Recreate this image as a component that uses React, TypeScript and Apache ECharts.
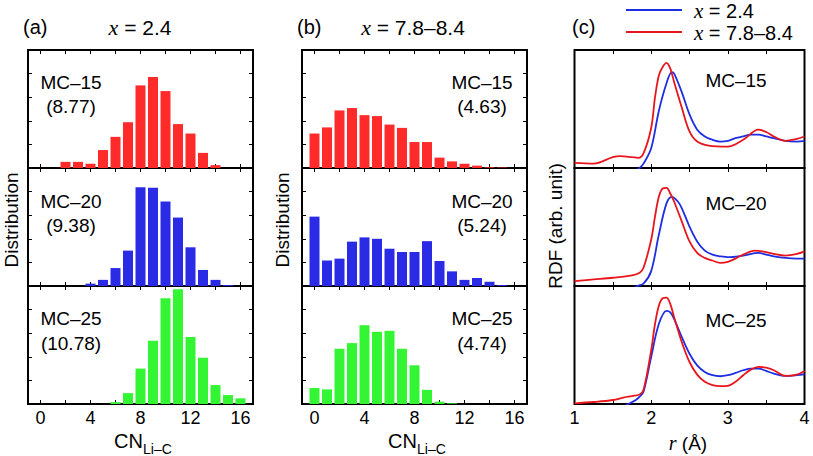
import React, { useEffect, useRef } from "react";
import * as echarts from "echarts";

const W = 813;
const H = 456;
const SANS = '"Liberation Sans", Arial, Helvetica, sans-serif';
const SERIF = '"Liberation Serif", "Times New Roman", serif';

// Coordination number bins
const cn = [0, 1, 2, 3, 4, 5, 6, 7, 8, 9, 10, 11, 12, 13, 14, 15, 16];
const cnTicks = [0, 2, 4, 6, 8, 10, 12, 14, 16];
const cnLabels = [0, 4, 8, 12, 16];

// (a) x = 2.4
const a15 = [0, 0, 0.013, 0.013, 0.009, 0.038, 0.066, 0.097, 0.175, 0.193, 0.163, 0.093, 0.073, 0.032, 0.006, 0, 0];
const a20 = [0, 0, 0, 0, 0.005, 0.013, 0.038, 0.075, 0.209, 0.208, 0.179, 0.145, 0.082, 0.034, 0.013, 0.002, 0];
const a25 = [0, 0, 0, 0, 0, 0, 0.004, 0.023, 0.075, 0.134, 0.224, 0.243, 0.142, 0.098, 0.04, 0.019, 0.012];
// (b) x = 7.8-8.4
const b15 = [0.073, 0.086, 0.122, 0.127, 0.112, 0.11, 0.092, 0.085, 0.055, 0.055, 0.022, 0.014, 0.009, 0.005, 0.0015, 0.001, 0];
const b20 = [0.147, 0.054, 0.058, 0.094, 0.103, 0.1, 0.079, 0.072, 0.072, 0.095, 0.053, 0.031, 0.013, 0.017, 0.009, 0.002, 0];
const b25 = [0.034, 0.031, 0.117, 0.129, 0.167, 0.153, 0.155, 0.117, 0.082, 0.03, 0.005, 0.0015, 0, 0, 0, 0, 0];

const histLabels = [
  ["MC\u201315", "(8.77)", "MC\u201320", "(9.38)", "MC\u201325", "(10.78)"],
  ["MC\u201315", "(4.63)", "MC\u201320", "(5.24)", "MC\u201325", "(4.74)"],
];
const rdfLabels = ["MC\u201315", "MC\u201320", "MC\u201325"];

// (c) RDF curves, r in Å
const r15Red = [1.0, 1.25, 1.5, 1.6, 1.75, 1.83, 1.9, 2.0, 2.05, 2.1, 2.15, 2.2, 2.25, 2.3, 2.4, 2.5, 2.6, 2.75, 3.0, 3.2, 3.4, 3.5, 3.6, 3.75, 3.9, 4.0];
const g15Red = [0.043, 0.037, 0.092, 0.1, 0.092, 0.086, 0.124, 0.339, 0.598, 0.784, 0.856, 0.891, 0.842, 0.727, 0.511, 0.31, 0.224, 0.19, 0.181, 0.239, 0.325, 0.305, 0.267, 0.23, 0.247, 0.267];
const r15Blue = [1.78, 1.85, 1.9, 2.0, 2.1, 2.2, 2.27, 2.3, 2.4, 2.5, 2.6, 2.7, 2.8, 2.9, 3.0, 3.1, 3.2, 3.3, 3.4, 3.5, 3.6, 3.75, 3.9, 4.0];
const g15Blue = [-0.03, 0.0, 0.037, 0.167, 0.483, 0.718, 0.813, 0.8, 0.641, 0.454, 0.325, 0.267, 0.239, 0.224, 0.23, 0.253, 0.267, 0.282, 0.282, 0.267, 0.253, 0.23, 0.224, 0.23];

const r20Red = [1.0, 1.25, 1.5, 1.75, 1.85, 1.9, 2.0, 2.05, 2.1, 2.15, 2.2, 2.25, 2.3, 2.4, 2.5, 2.6, 2.7, 2.8, 2.9, 3.0, 3.1, 3.2, 3.35, 3.45, 3.6, 3.75, 3.9, 4.0];
const g20Red = [0.042, 0.056, 0.07, 0.09, 0.112, 0.154, 0.392, 0.588, 0.756, 0.826, 0.832, 0.784, 0.714, 0.546, 0.378, 0.28, 0.238, 0.216, 0.196, 0.204, 0.232, 0.266, 0.3, 0.294, 0.272, 0.258, 0.272, 0.294];
const r20Blue = [1.75, 1.82, 1.9, 2.0, 2.1, 2.2, 2.27, 2.35, 2.4, 2.5, 2.6, 2.7, 2.8, 2.9, 3.0, 3.2, 3.4, 3.5, 3.6, 3.75, 3.9, 4.0];
const g20Blue = [-0.03, 0.0, 0.02, 0.126, 0.434, 0.7, 0.756, 0.714, 0.658, 0.504, 0.378, 0.3, 0.266, 0.252, 0.244, 0.258, 0.28, 0.266, 0.252, 0.238, 0.232, 0.232];

const r25Red = [1.0, 1.25, 1.5, 1.65, 1.75, 1.85, 1.9, 2.0, 2.05, 2.1, 2.15, 2.2, 2.25, 2.3, 2.4, 2.5, 2.6, 2.7, 2.8, 2.9, 3.0, 3.1, 3.2, 3.3, 3.4, 3.5, 3.6, 3.75, 3.9, 4.0];
const g25Red = [0.006, 0.017, 0.034, 0.056, 0.067, 0.081, 0.118, 0.454, 0.678, 0.832, 0.896, 0.902, 0.846, 0.734, 0.524, 0.356, 0.249, 0.188, 0.16, 0.151, 0.154, 0.188, 0.244, 0.291, 0.314, 0.308, 0.286, 0.238, 0.249, 0.28];
const r25Blue = [1.62, 1.7, 1.8, 1.85, 1.9, 2.0, 2.1, 2.2, 2.25, 2.3, 2.4, 2.5, 2.6, 2.7, 2.8, 2.9, 3.0, 3.1, 3.2, 3.3, 3.4, 3.5, 3.6, 3.75, 3.9, 4.0];
const g25Blue = [-0.03, 0.0, 0.034, 0.062, 0.104, 0.398, 0.678, 0.79, 0.776, 0.72, 0.566, 0.426, 0.328, 0.272, 0.244, 0.235, 0.244, 0.263, 0.286, 0.3, 0.3, 0.28, 0.258, 0.238, 0.244, 0.252];

const RED_BAR = "#ff2b2b";
const BLUE_BAR = "#2b2be6";
const GREEN_BAR = "#33f533";
const RED_LINE = "#e8161c";
const BLUE_LINE = "#1e2ee0";

const colLeft = [28, 302, 574.5];
const colWidth = [225, 225, 230];
const rowTop = [50, 168, 286];
const rowH = 118;

const zip = (xs: number[], ys: number[]) => xs.map((x, i) => [x, ys[i]]);

function richI(size: number) {
  return {
    i: { fontFamily: SERIF, fontStyle: "italic", fontSize: size + 1, fill: "#000" },
  };
}

function txt(text: string, x: number, y: number, size: number, align = "center", extra: any = {}) {
  return {
    type: "text",
    x,
    y,
    silent: true,
    ...extra,
    style: {
      text,
      x: 0,
      y: 0,
      fill: "#000",
      fontSize: size,
      fontFamily: SANS,
      align,
      verticalAlign: "middle",
      textAlign: align,
      textVerticalAlign: "middle",
      rich: richI(size),
    },
  };
}

export default function App() {
  const ref = useRef<HTMLDivElement>(null);

  useEffect(() => {
    if (!ref.current) return;
    const chart = echarts.init(ref.current, null, { renderer: "svg" });

    const grids: any[] = [];
    const xAxes: any[] = [];
    const yAxes: any[] = [];
    const series: any[] = [];

    const histData = [
      [a15, a20, a25],
      [b15, b20, b25],
    ];
    const barColors = [RED_BAR, BLUE_BAR, GREEN_BAR];
    const rdf = [
      [zip(r15Blue, g15Blue), zip(r15Red, g15Red)],
      [zip(r20Blue, g20Blue), zip(r20Red, g20Red)],
      [zip(r25Blue, g25Blue), zip(r25Red, g25Red)],
    ];

    for (let c = 0; c < 3; c++) {
      for (let r = 0; r < 3; r++) {
        const g = c * 3 + r;
        grids.push({
          left: colLeft[c],
          top: rowTop[r],
          width: colWidth[c],
          height: rowH,
          show: true,
          borderColor: "#000",
          borderWidth: 2,
          backgroundColor: "transparent",
          containLabel: false,
        });
        const tickStyle = { color: "#000", width: 1 };
        const noLine = { show: false, onZero: false };
        if (c < 2) {
          for (const pos of ["bottom", "top"]) {
            xAxes.push({
              type: "value",
              gridIndex: g,
              position: pos,
              min: -1,
              max: 17,
              axisLine: noLine,
              axisTick: { show: true, inside: true, length: 4, customValues: cnTicks, lineStyle: tickStyle },
              axisLabel: {
                show: pos === "bottom" && r === 2,
                customValues: cnLabels,
                fontSize: 18,
                fontFamily: SANS,
                color: "#000",
                margin: 5,
              },
              splitLine: { show: false },
            });
          }
          for (const pos of ["left", "right"]) {
            yAxes.push({
              type: "value",
              gridIndex: g,
              position: pos,
              min: 0,
              max: 0.25,
              interval: 0.05,
              axisLine: noLine,
              axisTick: { show: true, inside: true, length: 4, lineStyle: tickStyle },
              axisLabel: { show: false },
              splitLine: { show: false },
            });
          }
          series.push({
            type: "bar",
            xAxisIndex: 2 * g,
            yAxisIndex: 2 * g,
            data: cn.map((x, i) => [x, histData[c][r][i]]),
            barWidth: 10,
            itemStyle: { color: barColors[r] },
            silent: true,
          });
        } else {
          for (const pos of ["bottom", "top"]) {
            xAxes.push({
              type: "value",
              gridIndex: g,
              position: pos,
              min: 1,
              max: 4,
              interval: 0.5,
              axisLine: noLine,
              axisTick: { show: true, inside: true, length: 4, lineStyle: tickStyle },
              axisLabel: {
                show: pos === "bottom" && r === 2,
                fontSize: 18,
                fontFamily: SANS,
                color: "#000",
                margin: 5,
                formatter: (v: number) => (Number.isInteger(v) ? String(v) : ""),
              },
              splitLine: { show: false },
            });
          }
          for (const pos of ["left", "right"]) {
            yAxes.push({
              type: "value",
              gridIndex: g,
              position: pos,
              min: 0,
              max: 1,
              axisLine: noLine,
              axisTick: { show: false },
              axisLabel: { show: false },
              splitLine: { show: false },
            });
          }
          const colors = [BLUE_LINE, RED_LINE];
          rdf[r].forEach((d, k) => {
            series.push({
              type: "line",
              xAxisIndex: 2 * g,
              yAxisIndex: 2 * g,
              data: d,
              showSymbol: false,
              smooth: 0.35,
              clip: true,
              lineStyle: { color: colors[k], width: 1.8 },
              itemStyle: { color: colors[k] },
              silent: true,
            });
          });
        }
      }
    }

    const graphics: any[] = [
      txt("(a)", 23, 27, 20, "left"),
      txt("{i|x} = 2.4", 140, 27, 21),
      txt("(b)", 297, 27, 20, "left"),
      txt("{i|x} = 7.8\u20138.4", 413, 27, 21),
      txt("(c)", 572, 27, 20, "left"),
      {
        type: "line",
        silent: true,
        shape: { x1: 626, y1: 10, x2: 682, y2: 10 },
        style: { stroke: BLUE_LINE, lineWidth: 2 },
      },
      {
        type: "line",
        silent: true,
        shape: { x1: 626, y1: 32, x2: 682, y2: 32 },
        style: { stroke: RED_LINE, lineWidth: 2 },
      },
      txt("{i|x} = 2.4", 694, 11, 20, "left"),
      txt("{i|x} = 7.8\u20138.4", 694, 33, 20, "left"),
      txt("Distribution", 11, 220, 19, "center", { rotation: Math.PI / 2 }),
      txt("Distribution", 282, 220, 19, "center", { rotation: Math.PI / 2 }),
      txt("RDF (arb. unit)", 555, 226, 19, "center", { rotation: Math.PI / 2 }),
      txt("CN", 143, 441, 20, "right"),
      txt("Li\u2013C", 143, 449, 14, "left"),
      txt("CN", 417, 441, 20, "right"),
      txt("Li\u2013C", 417, 449, 14, "left"),
      txt("{i|r} (\u00c5)", 688, 443, 19),
    ];

    const labelCenters = [71, 482];
    const labelYs = [82, 106, 201, 225, 318, 343];
    for (let c = 0; c < 2; c++) {
      histLabels[c].forEach((t, i) => {
        graphics.push(txt(t, labelCenters[c], labelYs[i], 19));
      });
    }
    const rdfYs = [80, 203, 320];
    rdfLabels.forEach((t, i) => graphics.push(txt(t, 736, rdfYs[i], 19)));

    chart.setOption({
      animation: false,
      backgroundColor: "#fff",
      textStyle: { fontFamily: SANS },
      grid: grids,
      xAxis: xAxes,
      yAxis: yAxes,
      series,
      graphic: { elements: graphics },
    });

    return () => chart.dispose();
  }, []);

  return (
    <div
      ref={ref}
      style={{ width: W, height: H, position: "absolute", left: 0, top: 0 }}
    />
  );
}
